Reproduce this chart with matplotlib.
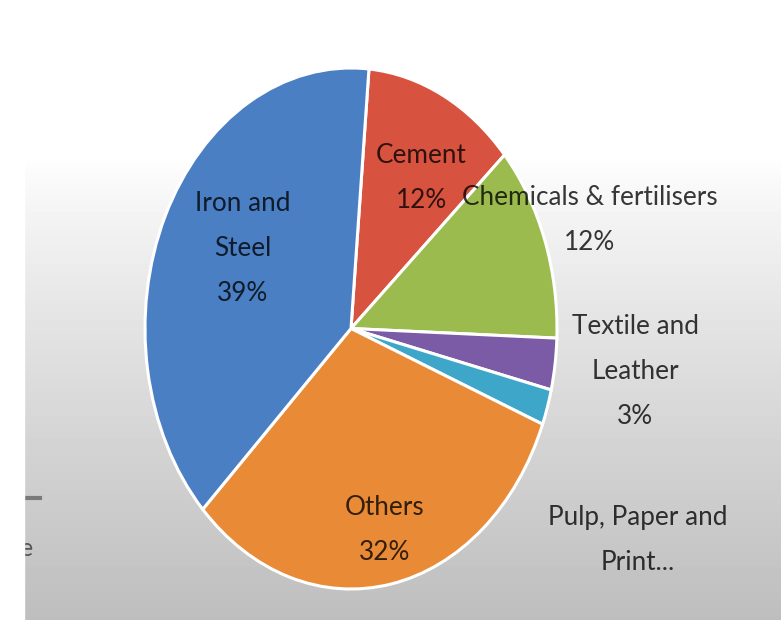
import numpy as np
import matplotlib.pyplot as plt
from matplotlib.patches import Rectangle
from matplotlib.lines import Line2D

# Datos del gráfico (porcentajes)
sectores = ["Cement", "Chemicals & fertilisers", "Textile and\nLeather",
            "Pulp, Paper and\nPrint...", "Others", "Iron and\nSteel"]
valores = [12.0, 12.2, 3.2, 2.2, 31.8, 38.6]
mostrar_pct = [True, True, True, False, True, True]
colores = ["#d8533f", "#9bbb4f", "#7b5aa6", "#3ea7c9", "#e98b36", "#4a7fc3"]

# posición de cada etiqueta: (radio, desplazamiento angular en grados)
pos_etiquetas = [(0.67, -3.9), (1.23, -0.1), (1.39, 1.0),
                 (1.61, -12.7), (0.79, 0.7), (0.61, -4.8)]

W, H = 781, 620
fig = plt.figure(figsize=(W / 100, H / 100), dpi=100)

# Fondo: blanco arriba, degradado gris hacia abajo, franja blanca a la izquierda
bg = fig.add_axes([0, 0, 1, 1], zorder=0)
filas = np.linspace(0, 1, H)
t = np.clip((filas - 0.25) / 0.75, 0, 1)
gris = 1.0 - 0.255 * t ** 0.85
img = np.repeat(gris[:, None], W, axis=1)
img[:, :24] = 1.0
bg.imshow(img, cmap="gray", vmin=0, vmax=1, extent=(0, W, H, 0), aspect="auto")
bg.set_xlim(0, W)
bg.set_ylim(H, 0)
bg.axis("off")
# restos de la captura en el borde izquierdo
bg.add_line(Line2D([24, 40], [498, 498], color="#7a7a7a", lw=3))
bg.text(20, 548, "e", fontsize=18, color="#555555", family="Lato",
        ha="left", va="center")
bg.add_patch(Rectangle((0, 0), 24, H, color="white", zorder=5))

# Gráfico circular (estirado como en la captura)
ax = fig.add_axes([145 / W, 1 - 589 / H, 412 / W, 521 / H], zorder=1)
wedges, _ = ax.pie(valores, colors=colores, startangle=85, counterclock=False,
                   wedgeprops=dict(edgecolor="white", linewidth=2.2))
ax.set_aspect("auto")
ax.set_xlim(-1, 1)
ax.set_ylim(-1, 1)
ax.axis("off")

total = sum(valores)
for w, nombre, v, pct, (r, da) in zip(wedges, sectores, valores,
                                      mostrar_pct, pos_etiquetas):
    ang = np.deg2rad((w.theta1 + w.theta2) / 2 + da)
    texto = f"{nombre}\n{v / total * 100:.0f}%" if pct else nombre
    ax.text(r * np.cos(ang), r * np.sin(ang), texto, ha="center", va="center",
            fontsize=18.8, family="Lato", color="black", alpha=0.78,
            linespacing=2.0, clip_on=False, zorder=5)

fig.savefig("out.png", dpi=100)
